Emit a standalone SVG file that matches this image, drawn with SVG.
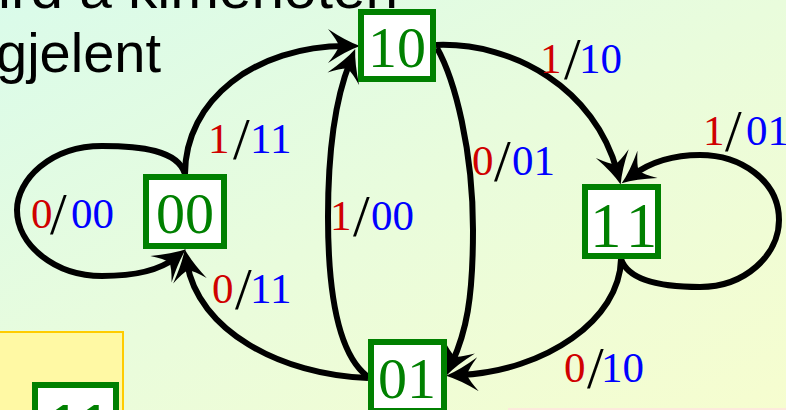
<svg xmlns="http://www.w3.org/2000/svg" width="786" height="410" viewBox="0 0 786 410">
<defs>
<linearGradient id="bg" x1="0" y1="0" x2="1" y2="1">
<stop offset="0" stop-color="#dafbea"/>
<stop offset="0.5" stop-color="#e9fcdc"/>
<stop offset="1" stop-color="#f6fdcf"/>
</linearGradient>
<marker id="ah" markerUnits="userSpaceOnUse" viewBox="-25 -25 50 50" markerWidth="50" markerHeight="50" refX="0" refY="0" orient="auto" overflow="visible">
<path d="M14,0 Q0,-5 -18,-17 Q-9,-6 -7,0 Q-9,6 -18,17 Q0,5 14,0 Z" fill="#000"/>
</marker>
<style>
.edge{fill:none;stroke:#000;stroke-width:6;marker-end:url(#ah)}
.box{fill:#fff;stroke:#008000;stroke-width:6}
.nlab{font-family:"Liberation Serif","Times New Roman",serif;font-size:58px;fill:#008000}
.lab{font-family:"Liberation Serif","Times New Roman",serif;font-size:43px}
.r{fill:#d00000}
.b{fill:#0000ff}
.s{fill:#000;font-size:60px}
.title{font-family:"Liberation Sans",Arial,sans-serif;font-size:56px;fill:#000}
</style>
</defs>
<rect x="0" y="0" width="786" height="410" fill="url(#bg)"/>

<g id="text-bg">
<text class="title" x="-2" y="8" textLength="400" lengthAdjust="spacingAndGlyphs">ird å kimenoten</text>
<text class="title" x="-4" y="72">gjelent</text>
</g>

<g id="side-panel">
<rect x="-2" y="332" width="125" height="90" fill="#fff9a4" stroke="#ffcc00" stroke-width="2"/>
<rect x="35" y="385" width="81" height="60" fill="#fff" stroke="#008000" stroke-width="6"/>
<text x="48" y="445" font-family="Liberation Sans,Arial,sans-serif" font-size="58" fill="#008000" letter-spacing="3">11</text>
</g>
<rect x="508" y="408" width="280" height="4" fill="#fde9dc"/>

<g id="connectors">
<path class="edge" d="M185,174 C178,150 140,146 102,146 C50,146 17,180 17,210 C17,245 55,276 102,276 C135,276 160,270 175,258"/>
<path class="edge" d="M185,174 C185,100 255,46 346,46"/>
<path class="edge" d="M367,376 C340,355 328,300 328,217 C328,140 338,92 350,62"/>
<path class="edge" d="M437,48 C455,80 473,150 473,230 C473,300 466,332 452,363"/>
<path class="edge" d="M436,45 C515,42 595,90 617,171"/>
<path class="edge" d="M621,259 C628,280 660,287 700,287 C745,287 779,255 779,220 C779,180 740,155 700,155 C670,155 648,164 633,175"/>
<path class="edge" d="M621,259 C620,320 545,371 460,375"/>
<path class="edge" d="M368,378 C280,375 198,330 187,263"/>
</g>

<g id="node-00">
<rect class="box" x="146" y="177" width="78" height="69"/>
<text class="nlab" x="185" y="233" text-anchor="middle">00</text>
</g>
<g id="node-10">
<rect class="box" x="361" y="12" width="72" height="67"/>
<text class="nlab" x="397" y="67" text-anchor="middle">10</text>
</g>
<g id="node-11">
<rect class="box" x="585" y="187" width="73" height="69"/>
<text class="nlab" x="590" y="247" style="font-size:63px" letter-spacing="6.5">11</text>
</g>
<g id="node-01">
<rect class="box" x="371" y="342" width="73" height="69"/>
<text class="nlab" x="407" y="398" text-anchor="middle">01</text>
</g>

<g id="labels">
<text class="lab"><tspan class="r" x="540" y="73">1</tspan><tspan class="s" x="564" y="79">/</tspan><tspan class="b" x="579" y="73">10</tspan></text>
<text class="lab"><tspan class="r" x="703" y="145">1</tspan><tspan class="s" x="725" y="151">/</tspan><tspan class="b" x="746" y="145">01</tspan></text>
<text class="lab"><tspan class="r" x="472" y="175">0</tspan><tspan class="s" x="494" y="181">/</tspan><tspan class="b" x="512" y="175">01</tspan></text>
<text class="lab"><tspan class="r" x="330" y="230">1</tspan><tspan class="s" x="353" y="236">/</tspan><tspan class="b" x="371" y="230">00</tspan></text>
<text class="lab"><tspan class="r" x="31" y="228">0</tspan><tspan class="s" x="50" y="234">/</tspan><tspan class="b" x="71" y="228">00</tspan></text>
<text class="lab"><tspan class="r" x="208" y="153">1</tspan><tspan class="s" x="233" y="159">/</tspan><tspan class="b" x="250" y="153">11</tspan></text>
<text class="lab"><tspan class="r" x="212" y="303">0</tspan><tspan class="s" x="235" y="309">/</tspan><tspan class="b" x="250" y="303">11</tspan></text>
<text class="lab"><tspan class="r" x="564" y="382">0</tspan><tspan class="s" x="587" y="388">/</tspan><tspan class="b" x="601" y="382">10</tspan></text>
</g>
</svg>
